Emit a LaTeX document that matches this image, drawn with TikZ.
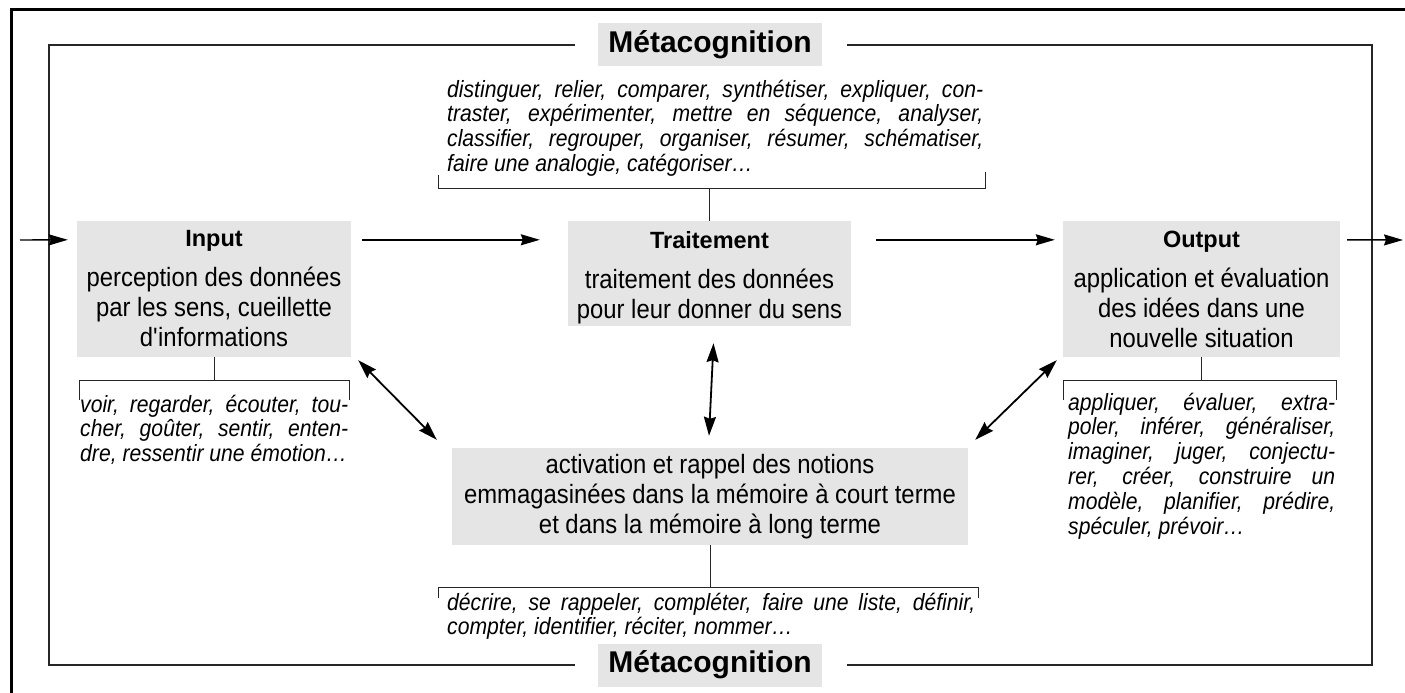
\documentclass[tikz,border=0pt]{standalone}
\usepackage{fontspec}
\setmainfont{Liberation Sans}
\newfontfamily\narrowfont{Liberation Sans}[FakeStretch=0.9]
\usetikzlibrary{arrows.meta}

\definecolor{boxgray}{gray}{0.9}
\tikzset{
  box/.style={fill=boxgray, inner sep=0pt, align=center, font=\narrowfont\fontsize{26.5}{30}\selectfont},
  listtext/.style={inner sep=0pt, font=\narrowfont\fontsize{23.5}{24.8}\selectfont\itshape},
  meta/.style={fill=boxgray, minimum width=224pt, minimum height=43pt, inner sep=0pt, font=\fontsize{30}{34}\selectfont\bfseries},
  tie/.style={black!85, line width=0.9pt},
  frame/.style={black!85, line width=1.3pt},
  flow/.style={line width=1.4pt, -{Stealth[length=19pt,width=11pt,inset=2pt]}},
  recall/.style={line width=1.8pt, {Stealth[length=19pt,width=12pt,inset=2pt]}-{Stealth[length=19pt,width=12pt,inset=2pt]}},
}
\newcommand{\boxtitle}[1]{{\rmfamily\fontsize{23.5}{26}\selectfont\bfseries #1}}
\newcommand{\verblist}[2]{\parbox[t]{#1}{\tolerance=9999 #2}}

\begin{document}
\begin{tikzpicture}[x=1pt,y=-1pt]
	\useasboundingbox (0,0) rectangle (1405,693);
	
	% outer frame
	\draw[line width=3pt] (11,693) -- (11,10) -- (1405,10);
	
	% metacognition frame
	{
		\node[meta] (metatop) at (710,45) {Métacognition};
		\node[meta] (metabot) at (710,665) {Métacognition};
		
		\coordinate (fnw) at (49,45);
		\coordinate (fsw) at (49,665);
		\coordinate (fne) at (1372,45);
		\coordinate (fse) at (1372,665);
		
		\draw[frame] ([xshift=-23pt]metatop.west) -- (fnw) -- (fsw) -- ([xshift=-23pt]metabot.west);
		\draw[frame] ([xshift=25pt]metatop.east) -- (fne) -- (fse) -- ([xshift=25pt]metabot.east);
	}
	
	% the three stages and the memory
	{
		\node[box, minimum width=274pt, minimum height=136pt] (input) at (214,289)
		{\boxtitle{Input}\\[10pt]perception des données\\par les sens, cueillette\\d\textquotesingle informations};
		
		\node[box, minimum width=283pt, minimum height=105pt] (trait) at (709.5,273.5)
		{\boxtitle{Traitement}\rule{0pt}{26pt}\\[10pt]traitement des données\\pour leur donner du sens};
		
		\node[box, minimum width=277pt, minimum height=136pt] (output) at (1201.5,289)
		{\boxtitle{Output}\\[10pt]application et évaluation\\des idées dans une\\nouvelle situation};
		
		\node[box, minimum width=516pt, minimum height=97pt] (memory) at (710,496.5)
		{activation et rappel des notions\\emmagasinées dans la mémoire à court terme\\et dans la mémoire à long terme};
	}
	
	% flow
	{
		\coordinate (in) at (20,240);
		\coordinate (out) at (1403,240);
		
		\draw[flow] (in) -- ([shift={(-9,19)}]input.north west);
		\draw[flow] ([shift={(11,19)}]input.north east) -- ([shift={(-28,19)}]trait.north west);
		\draw[flow] ([shift={(25,19)}]trait.north east) -- ([shift={(-8,19)}]output.north west);
		\draw[flow] ([shift={(7,19)}]output.north east) -- (out);
		
		\draw[recall] ([shift={(7,3)}]input.south east) -- ([shift={(-15,-8)}]memory.north west);
		\draw[recall] ([shift={(4,17)}]trait.south) -- ([shift={(-1,-12)}]memory.north);
		\draw[recall] ([shift={(-6,3)}]output.south west) -- ([shift={(7,-8)}]memory.north east);
	}
	
	% verbs
	{
		\node[listtext, anchor=base west] (traitlist) at (447,97)
		{\verblist{536pt}{distinguer, relier, comparer, synthétiser, expliquer, con-\linebreak
				traster, expérimenter, mettre en séquence, analyser,\linebreak
				classifier, regrouper, organiser, résumer, schématiser,\linebreak
				faire une analogie, catégoriser…}};
		\coordinate (traitbr) at (709.5,188);
		\draw[tie] (438,175) -- (438,188) -- (985,188) -- (985,172);
		\draw[tie] (traitbr) -- (trait);
		
		\node[listtext, anchor=base west] (inplist) at (80,412)
		{\verblist{268pt}{voir, regarder, écouter, tou-\linebreak
				cher, goûter, sentir, enten-\linebreak
				dre, ressentir une émotion…}};
		\coordinate (inpbr) at (214,380);
		\draw[tie] (79,400) -- (79,380) -- (349,380) -- (349,400);
		\draw[tie] (input) -- (inpbr);
		
		\node[listtext, anchor=base west] (outlist) at (1068,410)
		{\verblist{267pt}{appliquer, évaluer, extra-\linebreak
				poler, inférer, généraliser,\linebreak
				imaginer, juger, conjectu-\linebreak
				rer, créer, construire un\linebreak
				modèle, planifier, prédire,\linebreak
				spéculer, prévoir…}};
		\coordinate (outbr) at (1201.5,380);
		\draw[tie] (1063,400) -- (1063,380) -- (1336,380) -- (1336,400);
		\draw[tie] (output) -- (outbr);
		
		\node[listtext, anchor=base west] (memlist) at (447,610)
		{\verblist{528pt}{décrire, se rappeler, compléter, faire une liste, définir,\linebreak
				compter, identifier, réciter, nommer…}};
		\coordinate (membr) at (710,587);
		\draw[tie] (438,598) -- (438,587) -- (978,587) -- (978,598);
		\draw[tie] (memory) -- (membr);
	}
	
\end{tikzpicture}
\end{document}
